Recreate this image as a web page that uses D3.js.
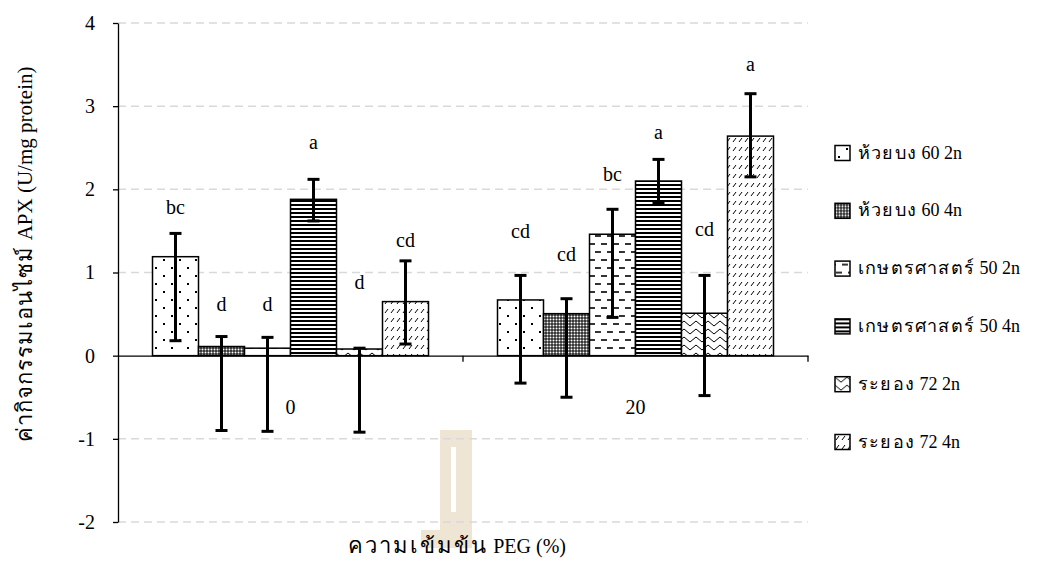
<!DOCTYPE html>
<html>
<head>
<meta charset="utf-8">
<script src="https://cdn.jsdelivr.net/npm/d3@7"></script>
<style>
  body { margin: 0; background: #fff; }
  text { font-family: "Liberation Serif", "Times New Roman", serif; fill: #000; }
</style>
</head>
<body>
<script>
"use strict";

// data
const groups = ["0", "20"];
const series = ["ห้วยบง 60 2n", "ห้วยบง 60 4n", "เกษตรศาสตร์ 50 2n", "เกษตรศาสตร์ 50 4n", "ระยอง 72 2n", "ระยอง 72 4n"];
const values0 = [1.19, 0.11, 0.09, 1.88, 0.08, 0.65];
const values20 = [0.67, 0.505, 1.46, 2.10, 0.51, 2.64];
const errLow0 = [0.18, -0.90, -0.91, 1.62, -0.92, 0.14];
const errHigh0 = [1.47, 0.23, 0.22, 2.12, 0.09, 1.14];
const errLow20 = [-0.33, -0.50, 0.46, 1.84, -0.48, 2.15];
const errHigh20 = [0.965, 0.685, 1.76, 2.36, 0.965, 3.15];
const letters0 = ["bc", "d", "d", "a", "d", "cd"];
const letters20 = ["cd", "cd", "bc", "a", "cd", "a"];
const letterAt0 = [1.78, 0.61, 0.61, 2.56, 0.88, 1.38];
const letterAt20 = [1.49, 1.21, 2.18, 2.68, 1.51, 3.50];
const yTicks = [-2, -1, 0, 1, 2, 3, 4];

const W = 1051, H = 565;
const plotLeft = 118, plotRight = 808, plotTop = 23, plotBottom = 522;

let svg = d3
  .select("body")
  .append("svg")
  .attr("width", W)
  .attr("height", H);

// fill patterns
let defs = svg.append("defs");

function pattern(id, w, h) {
  let p = defs.append("pattern")
    .attr("id", id)
    .attr("patternUnits", "userSpaceOnUse")
    .attr("width", w)
    .attr("height", h);
  p.append("rect").attr("width", w).attr("height", h).attr("fill", "#fff");
  return p;
}

let p0 = pattern("pat0", 16, 16);
p0.append("rect").attr("x", 3).attr("y", 3).attr("width", 2).attr("height", 2).attr("fill", "#000");
p0.append("rect").attr("x", 11).attr("y", 11).attr("width", 2).attr("height", 2).attr("fill", "#000");

let p1 = pattern("pat1", 3, 3);
p1.select("rect").attr("fill", "#2a2a2a");
p1.append("circle").attr("cx", 1.5).attr("cy", 1.5).attr("r", 1).attr("fill", "#fff");

let p2 = pattern("pat2", 12, 16);
p2.append("line").attr("x1", 1).attr("x2", 7).attr("y1", 4).attr("y2", 4).attr("stroke", "#000").attr("stroke-width", 1.6);
p2.append("line").attr("x1", 7).attr("x2", 13).attr("y1", 12).attr("y2", 12).attr("stroke", "#000").attr("stroke-width", 1.6);
p2.append("line").attr("x1", -1).attr("x2", 1).attr("y1", 12).attr("y2", 12).attr("stroke", "#000").attr("stroke-width", 1.6);

let p3 = pattern("pat3", 4, 4);
p3.append("rect").attr("y", 0).attr("width", 4).attr("height", 2).attr("fill", "#000");

let p4 = pattern("pat4", 12, 8);
p4.append("polyline").attr("points", "0,1 6,6 12,1").attr("fill", "none")
  .attr("stroke", "#000").attr("stroke-width", 1);

let p5 = pattern("pat5", 6, 9);
p5.append("line").attr("x1", 1).attr("y1", 7).attr("x2", 4).attr("y2", 3)
  .attr("stroke", "#000").attr("stroke-width", 1);

const fills = ["url(#pat0)", "url(#pat1)", "url(#pat2)", "url(#pat3)", "url(#pat4)", "url(#pat5)"];

// faint watermark behind everything
svg.append("path")
  .attr("d", "M440,430 L472,430 L472,548 L421,548 L421,530 L440,530 Z M451,447 L451,512 L456,512 L456,447 Z")
  .attr("fill", "#eee5d4")
  .attr("fill-rule", "evenodd");

// scales
let y = d3.scaleLinear().domain([-2, 4]).range([plotBottom, plotTop]);
let x0 = d3.scaleBand().domain(groups).range([plotLeft, plotRight]);
let x1 = d3.scaleBand().domain(series).range([0, x0.bandwidth()]).paddingInner(0).paddingOuter(0.75);

// grid
svg.append("g")
  .selectAll("line")
  .data(yTicks.filter(t => t !== 0))
  .enter()
  .append("line")
  .attr("x1", plotLeft)
  .attr("x2", plotRight)
  .attr("y1", d => y(d))
  .attr("y2", d => y(d))
  .attr("stroke", "#d9d9d9")
  .attr("stroke-width", 1.5)
  .attr("stroke-dasharray", "8,5");

let rows = groups.map((g, gi) => series.map((s, si) => ({
  group: g,
  series: s,
  idx: si,
  value: gi === 0 ? values0[si] : values20[si],
  low: gi === 0 ? errLow0[si] : errLow20[si],
  high: gi === 0 ? errHigh0[si] : errHigh20[si],
  letter: gi === 0 ? letters0[si] : letters20[si],
  letterAt: gi === 0 ? letterAt0[si] : letterAt20[si]
}))).flat();

let cx = d => x0(d.group) + x1(d.series) + x1.bandwidth() / 2;

// bars
svg.append("g")
  .selectAll("rect")
  .data(rows)
  .enter()
  .append("rect")
  .attr("x", d => x0(d.group) + x1(d.series))
  .attr("width", x1.bandwidth())
  .attr("y", d => y(Math.max(0, d.value)))
  .attr("height", d => Math.abs(y(d.value) - y(0)))
  .attr("fill", d => fills[d.idx])
  .attr("stroke", "#000")
  .attr("stroke-width", 1.5);

// axes
let yAxis = svg.append("g")
  .attr("transform", `translate(${plotLeft},0)`)
  .call(d3.axisLeft(y).tickValues(yTicks).tickFormat(d => String(d)).tickSize(5).tickSizeOuter(0).tickPadding(18))
  .attr("font-family", "Liberation Serif")
  .attr("font-size", 20);
yAxis.selectAll("line, path").attr("stroke", "#000").attr("stroke-width", 1.3);

let xAxis = svg.append("g")
  .attr("transform", `translate(0,${y(0)})`)
  .call(d3.axisBottom(x0).tickSize(0).tickSizeOuter(0).tickPadding(44))
  .attr("font-family", "Liberation Serif")
  .attr("font-size", 20);
xAxis.select("path").attr("stroke", "#000").attr("stroke-width", 1.3);

// category boundary ticks
svg.append("g")
  .selectAll("line")
  .data(groups)
  .enter()
  .append("line")
  .attr("x1", d => x0(d) + x0.bandwidth())
  .attr("x2", d => x0(d) + x0.bandwidth())
  .attr("y1", y(0))
  .attr("y2", y(0) + 6)
  .attr("stroke", "#000")
  .attr("stroke-width", 1.3);

// error bars
let eb = svg.append("g").attr("stroke", "#000").attr("stroke-width", 3);
eb.selectAll(".v").data(rows).enter().append("line")
  .attr("x1", cx).attr("x2", cx)
  .attr("y1", d => y(d.low)).attr("y2", d => y(d.high));
eb.selectAll(".hi").data(rows).enter().append("line")
  .attr("x1", d => cx(d) - 6).attr("x2", d => cx(d) + 6)
  .attr("y1", d => y(d.high)).attr("y2", d => y(d.high));
eb.selectAll(".lo").data(rows).enter().append("line")
  .attr("x1", d => cx(d) - 6).attr("x2", d => cx(d) + 6)
  .attr("y1", d => y(d.low)).attr("y2", d => y(d.low));

// significance letters
svg.append("g")
  .selectAll("text")
  .data(rows)
  .enter()
  .append("text")
  .attr("x", cx)
  .attr("y", d => y(d.letterAt))
  .attr("dy", "0.32em")
  .attr("text-anchor", "middle")
  .style("font-size", "20px")
  .text(d => d.letter);

// the Thai font here is narrower than the original, so Thai runs get a bit more size
function mixed(sel, thai, rest, thaiSize, thaiSpacing, restSize) {
  sel.append("tspan").style("font-size", thaiSize + "px").style("letter-spacing", thaiSpacing + "px").text(thai);
  sel.append("tspan").style("font-size", restSize + "px").text(rest);
}

// axis titles
let xTitle = svg.append("text")
  .attr("x", 566)
  .attr("y", 553)
  .attr("text-anchor", "end");
mixed(xTitle, "ความเข้มข้น", " PEG (%)", 22, 2, 20);

let yTitle = svg.append("text")
  .attr("transform", "translate(32,254) rotate(-90)")
  .attr("text-anchor", "middle");
mixed(yTitle, "ค่ากิจกรรมเอนไซม์", " APX (U/mg protein)", 22, 1, 21);

// legend
let legend = svg.append("g")
  .selectAll("g")
  .data(series)
  .enter()
  .append("g")
  .attr("transform", (d, i) => `translate(835,${153 + i * 57.8})`);

legend.append("rect")
  .attr("x", 0)
  .attr("y", -7.5)
  .attr("width", 15)
  .attr("height", 15)
  .attr("fill", (d, i) => fills[i])
  .attr("stroke", "#000")
  .attr("stroke-width", 1.5);

legend.append("text")
  .attr("x", 23)
  .attr("dy", "0.35em")
  .each(function(d) {
    let cut = d.indexOf(" ");
    mixed(d3.select(this), d.slice(0, cut), d.slice(cut), 18, 1.2, 18);
  });
</script>
</body>
</html>
